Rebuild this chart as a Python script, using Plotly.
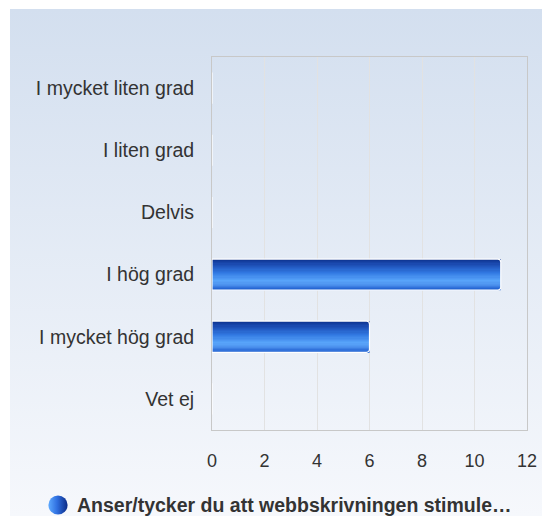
import base64
import plotly.graph_objects as go

categories = ["I mycket liten grad", "I liten grad", "Delvis", "I hög grad", "I mycket hög grad", "Vet ej"]
values = [0, 0, 0, 11, 6, 0]
x_ticks = [0, 2, 4, 6, 8, 10, 12]
x_ticktext = ["0", "2", "4", "6", "8", "10", "12"]
series_name = "Anser/tycker du att webbskrivningen stimule…"

W, H = 542, 516
ML, MR, MT, MB = 212, 15, 57, 86
PW, PH = W - ML - MR, H - MT - MB

def b64svg(s):
    return "data:image/svg+xml;base64," + base64.b64encode(s.encode()).decode()

bg_src = b64svg(
    '<svg xmlns="http://www.w3.org/2000/svg" width="532" height="507" viewBox="0 0 532 507" preserveAspectRatio="none">'
    '<defs><linearGradient id="g" x1="0" y1="0" x2="0" y2="1">'
    '<stop offset="0" stop-color="#d3dfef"/><stop offset="1" stop-color="#f6f8fc"/>'
    '</linearGradient></defs><rect width="532" height="507" fill="url(#g)"/></svg>'
)
icon_src = b64svg(
    '<svg xmlns="http://www.w3.org/2000/svg" width="20" height="20" viewBox="0 0 20 20">'
    '<defs><linearGradient id="c" x1="0" y1="0" x2="1" y2="0">'
    '<stop offset="0" stop-color="#5eaaff"/><stop offset="0.45" stop-color="#2f6fe0"/>'
    '<stop offset="1" stop-color="#0a2a85"/></linearGradient></defs>'
    '<circle cx="10" cy="10" r="9.6" fill="url(#c)"/></svg>'
)

def hex2rgb(h):
    h = h.lstrip("#")
    return tuple(int(h[i:i + 2], 16) for i in (0, 2, 4))

stops = [(0.0, "#0b2f8a"), (0.18, "#1c4cb2"), (0.45, "#3178e2"), (0.72, "#5aa6fb"),
         (0.86, "#4a8eec"), (1.0, "#2060d0")]

def color_at(t):
    for (a, ca), (b, cb) in zip(stops[:-1], stops[1:]):
        if a <= t <= b:
            f = (t - a) / (b - a) if b > a else 0
            r1, g1, b1 = hex2rgb(ca)
            r2, g2, b2 = hex2rgb(cb)
            return "rgb(%d,%d,%d)" % (r1 + (r2 - r1) * f, g1 + (g2 - g1) * f, b1 + (b2 - b1) * f)
    return stops[-1][1]

fig = go.Figure()
bw = 0.5
N = 26
sw = bw / N
for i in range(N):
    t = (i + 0.5) / N
    fig.add_trace(go.Bar(
        y=categories, x=values, orientation="h", name=series_name,
        width=sw * 1.6 if i < N - 1 else sw, offset=-bw / 2 + i * sw,
        marker=dict(color=color_at(t), line=dict(width=0)),
        showlegend=False, hoverinfo="skip",
    ))
fig.add_trace(go.Bar(
    y=categories, x=values, orientation="h", width=bw, name=series_name,
    marker=dict(color="rgba(0,0,0,0)", line=dict(color="white", width=1.2), cornerradius=3),
    showlegend=False,
))

def px_x(p):
    return (p - ML) / PW

def px_y(p):
    return (H - MB - p) / PH

fig.update_layout(
    width=W, height=H,
    margin=dict(l=ML, r=MR, t=MT, b=MB, autoexpand=False),
    paper_bgcolor="white", plot_bgcolor="rgba(0,0,0,0)",
    barmode="overlay", showlegend=False,
    font=dict(family="Liberation Sans, Arial, sans-serif", size=19, color="#333333"),
    images=[
        dict(source=bg_src, xref="paper", yref="paper",
             x=px_x(10), y=px_y(9), sizex=(W - 10) / PW, sizey=(H - 9) / PH,
             xanchor="left", yanchor="top", sizing="stretch", layer="below"),
        dict(source=icon_src, xref="paper", yref="paper",
             x=px_x(48), y=px_y(505), sizex=20 / PW, sizey=20 / PH,
             xanchor="left", yanchor="middle", sizing="contain", layer="above"),
    ],
    annotations=[dict(text="<b>" + series_name + "</b>", xref="paper", yref="paper",
                      x=px_x(75), y=px_y(505), xanchor="left", yanchor="middle",
                      showarrow=False, font=dict(size=19.5, color="#333333"))],
    xaxis=dict(range=[0, 12], tickvals=x_ticks, ticktext=x_ticktext,
               showgrid=True, gridcolor="#e2e2e2", gridwidth=1,
               zeroline=False, showline=True, linecolor="#c8c8c8", mirror=True,
               ticks="", ticklabelstandoff=14, ticklabeloverflow="allow",
               tickfont=dict(size=18, color="#333333")),
    yaxis=dict(categoryorder="array", categoryarray=categories, autorange="reversed",
               showgrid=False, zeroline=False, showline=True, linecolor="#c8c8c8", mirror=True,
               ticks="", ticklabelstandoff=13, tickfont=dict(size=19.5, color="#333333")),
)

fig.write_html("out.html", config={"displayModeBar": False},
               post_script="document.body.style.margin='0';document.body.style.overflow='hidden';")
